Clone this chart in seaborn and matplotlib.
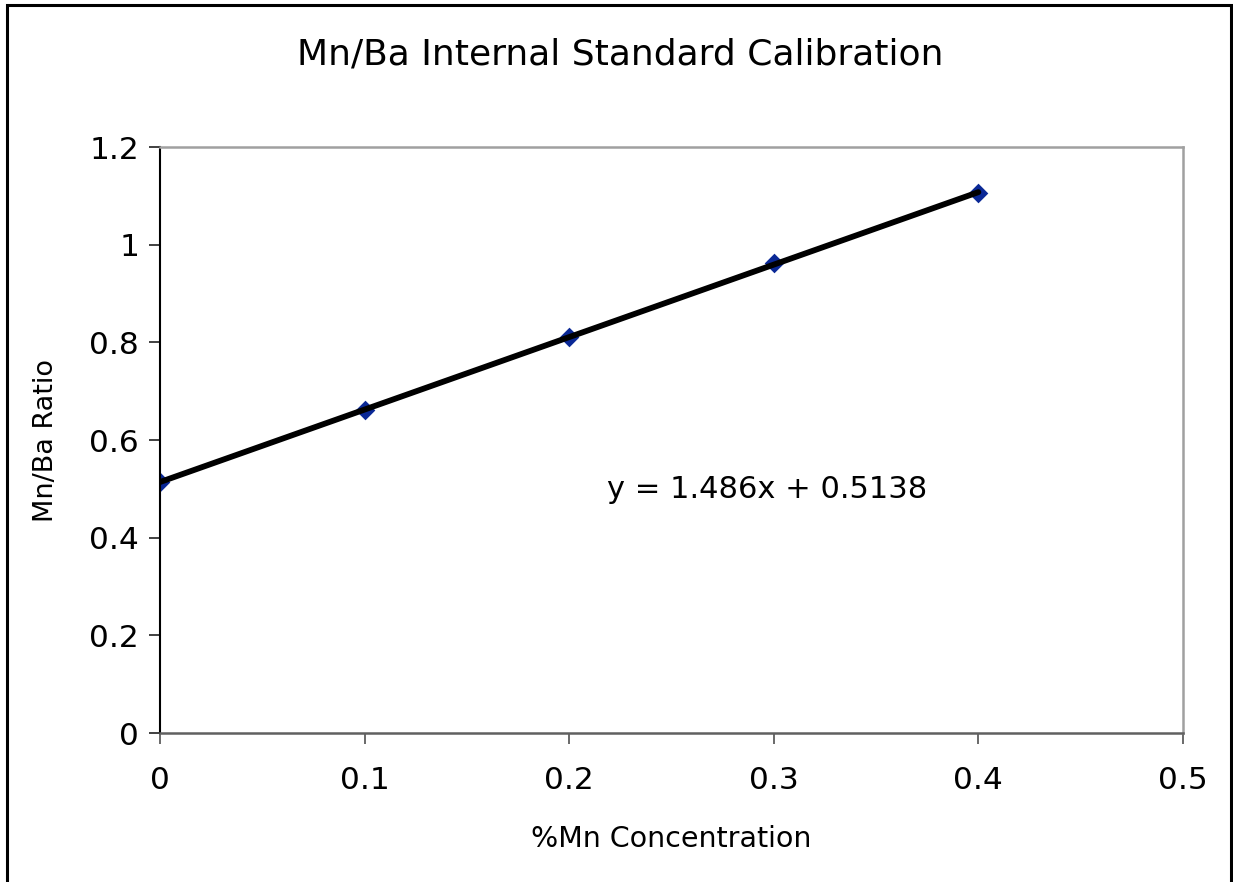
# Mn/Ba internal standard calibration curve
import numpy as np
import pandas as pd
import seaborn as sns
import matplotlib.pyplot as plt
from matplotlib.patches import Rectangle

# Data
mn_conc = [0.0, 0.1, 0.2, 0.3, 0.4]
mn_ba_ratio = [0.514, 0.662, 0.810, 0.962, 1.106]
x_ticks = [0, 0.1, 0.2, 0.3, 0.4, 0.5]
y_ticks = [0, 0.2, 0.4, 0.6, 0.8, 1.0, 1.2]
x_tick_labels = ["0", "0.1", "0.2", "0.3", "0.4", "0.5"]
y_tick_labels = ["0", "0.2", "0.4", "0.6", "0.8", "1", "1.2"]

df = pd.DataFrame({"conc": mn_conc, "ratio": mn_ba_ratio})

sns.set_style("white")
plt.rcParams["font.family"] = ["DejaVu Sans"]
plt.rcParams["text.color"] = "black"
plt.rcParams["axes.labelcolor"] = "black"
plt.rcParams["xtick.color"] = "black"
plt.rcParams["ytick.color"] = "black"

fig = plt.figure(figsize=(12.33, 8.82), dpi=100)
ax = fig.add_axes([0.1298, 0.1689, 0.8296, 0.6644])

sns.regplot(data=df, x="conc", y="ratio", ax=ax, ci=None, truncate=True,
            marker="D",
            scatter_kws={"s": 100, "color": "#0a2896", "alpha": 1, "linewidths": 0,
                         "zorder": 2},
            line_kws={"color": "black", "linewidth": 4.2, "zorder": 3})

# equation of the fit line
ax.text(0.2185, 0.498, "y = 1.486x + 0.5138", fontsize=22, va="center", ha="left",
        color="black")

ax.set_xlim(0, 0.5)
ax.set_ylim(0, 1.2)
ax.set_xticks(x_ticks)
ax.set_xticklabels(x_tick_labels)
ax.set_yticks(y_ticks)
ax.set_yticklabels(y_tick_labels)
ax.tick_params(axis="both", labelsize=22.5, direction="out", length=8, width=1.2,
               bottom=True, left=True, labelcolor="black")
ax.tick_params(axis="x", pad=16, color="#505050")
ax.tick_params(axis="y", pad=7, color="#202020")

ax.set_xlabel("%Mn Concentration", fontsize=20.5, labelpad=21, color="black")
ax.set_ylabel("Mn/Ba Ratio", fontsize=19.5, labelpad=22, color="black")
fig.text(620 / 1233, 1 - 55 / 882, "Mn/Ba Internal Standard Calibration",
         fontsize=26, ha="center", va="center", color="black")

ax.spines["left"].set_color("black")
ax.spines["left"].set_linewidth(1.5)
ax.spines["bottom"].set_color("#606060")
ax.spines["bottom"].set_linewidth(1.8)
ax.spines["top"].set_color("#a0a0a0")
ax.spines["top"].set_linewidth(1.8)
ax.spines["right"].set_color("#a0a0a0")
ax.spines["right"].set_linewidth(1.8)

# outer chart frame (bottom edge runs off the image)
fig.patches.append(Rectangle((7 / 1233, -0.05), (1231 - 7) / 1233, 1.05 - 5 / 882,
                             transform=fig.transFigure, fill=False,
                             edgecolor="black", linewidth=2.2))

fig.savefig("out.png", dpi=100)
